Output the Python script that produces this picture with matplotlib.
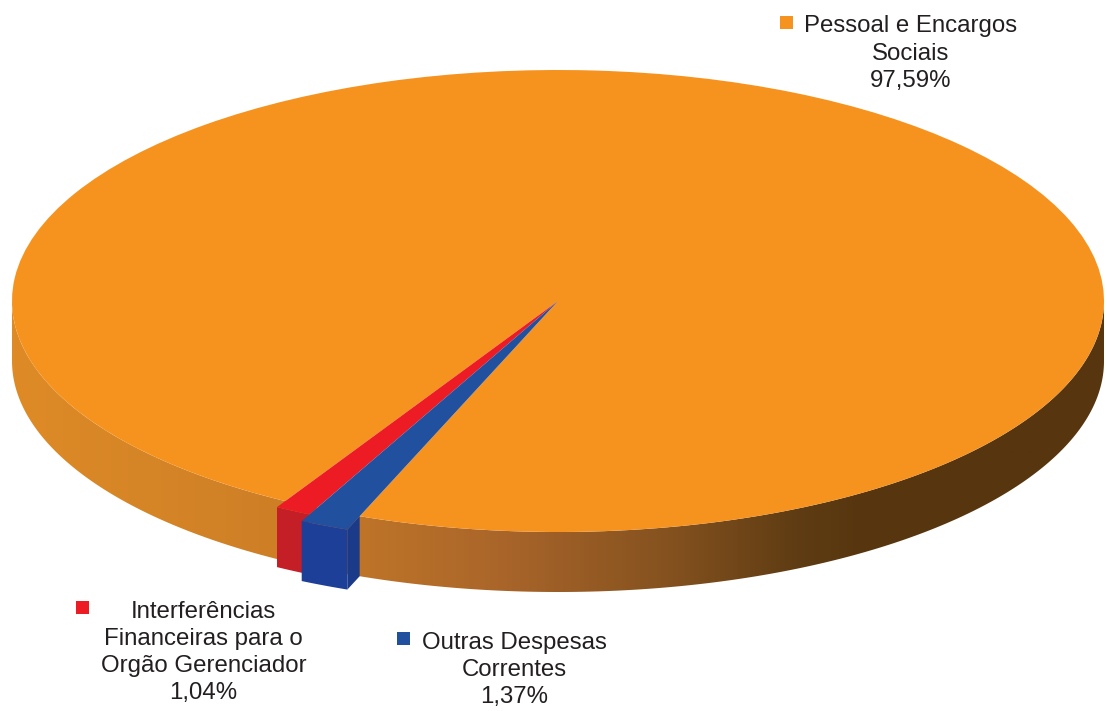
import numpy as np
from matplotlib import pyplot as plt
from matplotlib.colors import LinearSegmentedColormap
from matplotlib.patches import Polygon, Rectangle

plt.rcParams['font.family'] = ['Liberation Sans', 'DejaVu Sans']

# Dados do grafico
categorias = ['Pessoal e Encargos\nSociais', 'Interferências\nFinanceiras para o\nOrgão Gerenciador',
              'Outras Despesas\nCorrentes']
valores = [97.59, 1.04, 1.37]

cores_topo = ['#F6921E', '#ED1C24', '#21509F']
cores_frente = ['#C87C27', '#C41E26', '#1E3F98']
raios = [1.0, 1.03, 1.062]

# geometria em pixels da imagem
W, H = 1107, 711
CX, CY = 558, 301
RX, RY = 546, 231
ALTURA = 60 / RY
INICIO = 248.7

fig = plt.figure(figsize=(W / 100, H / 100), dpi=100)
ax = fig.add_axes([0, 0, 1, 1])
wedges, _ = ax.pie(valores, colors=cores_topo, startangle=INICIO, wedgeprops={'linewidth': 0})
for w, r in zip(wedges, raios):
    w.set_radius(r)
    w.set_zorder(5)
ax.set_aspect('auto')
ax.axis('off')

# lateral do disco com gradiente
t = np.radians(np.linspace(180, 360, 400))
x_borda = np.cos(t)
y_borda = np.sin(t)
lateral = np.column_stack([np.r_[x_borda, x_borda[::-1]], np.r_[y_borda, y_borda[::-1] - ALTURA]])
cmap = LinearSegmentedColormap.from_list('lateral', [
    (0.0, '#DE8B26'), (0.24, '#CE7F27'), (0.32, '#BE7428'), (0.45, '#A9652A'),
    (0.6, '#85521F'), (0.72, '#5F3C13'), (0.78, '#57360F'), (1.0, '#57360F')])
img = ax.imshow(np.linspace(0, 1, 512)[None, :], extent=(-1, 1, -1.4, 0.1), cmap=cmap,
                aspect='auto', zorder=1)
clip = Polygon(lateral, transform=ax.transData, facecolor='none', edgecolor='none')
ax.add_patch(clip)
img.set_clip_path(clip)
ax.set_xlim(-CX / RX, (W - CX) / RX)
ax.set_ylim(-(H - CY) / RY, CY / RY)

# paredes das fatias vermelha e azul
ang = INICIO + 360 * valores[0] / sum(valores)
for i in [1, 2]:
    ang2 = ang + 360 * valores[i] / sum(valores)
    a = np.radians(np.linspace(ang, ang2, 12))
    x = raios[i] * np.cos(a)
    y = raios[i] * np.sin(a)
    ax.fill(np.r_[x, x[::-1]], np.r_[y, y[::-1] - ALTURA], color=cores_frente[i], lw=0, zorder=3 + i)
    if i == 2:
        # lado direito da fatia azul, ate a borda do disco
        xb, yb = np.cos(a[-1]), np.sin(a[-1])
        ax.fill([x[-1], xb, xb, x[-1]], [y[-1], yb, yb - ALTURA, y[-1] - ALTURA],
                color='#1B3A8A', lw=0, zorder=4)
    ang = ang2

# legendas em coordenadas de pixel
ov = fig.add_axes([0, 0, 1, 1])
ov.set_xlim(0, W)
ov.set_ylim(H, 0)
ov.axis('off')
pos_texto = [(910.5, 53.5), (203.5, 652.5), (514, 670)]
pos_quad = [(780, 16), (76, 601), (397, 632)]
for nome, v, cor, (xt, yt), (xq, yq) in zip(categorias, valores, cores_topo, pos_texto, pos_quad):
    rotulo = nome + '\n' + f'{v:.2f}%'.replace('.', ',')
    ov.text(xt, yt, rotulo, ha='center', va='center', multialignment='center',
            fontsize=17.3, color='#231F20', linespacing=1.31)
    ov.add_patch(Rectangle((xq, yq), 13, 13, facecolor=cor, edgecolor='none'))

fig.savefig('out.png', dpi=100)
